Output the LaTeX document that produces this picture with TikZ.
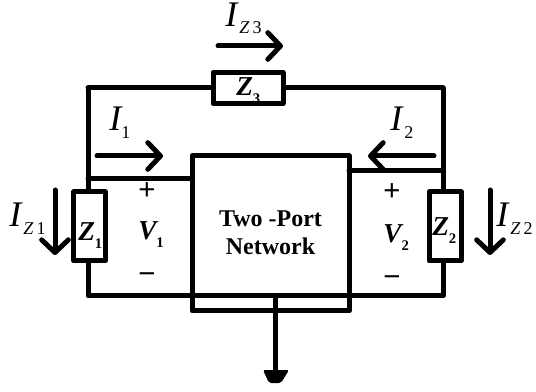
\documentclass[tikz,border=0pt]{standalone}
\usepackage{fontspec}
\setmainfont{Liberation Serif}
\setsansfont{Liberation Sans}
\usetikzlibrary{arrows.meta}
\newcommand{\bigI}{{\fontsize{27}{27}\selectfont\itshape I}}
\newcommand{\subtxt}[1]{\raisebox{-5.5pt}{\fontsize{13.5}{14}\selectfont #1}}
\newcommand{\boldlab}[2]{{\fontsize{20.5}{20}\selectfont\bfseries\itshape #1}\raisebox{-5.5pt}{\fontsize{11}{11}\selectfont\bfseries #2}}
\tikzset{
  wire/.style={line width=3.75pt},
  zbox/.style={draw,line width=3.75pt,fill=white,inner sep=0pt,outer sep=0pt},
  curr/.style={line width=3.75pt,-{Straight Barb[length=9.5pt,width=20pt,round]}},
  lab/.style={inner sep=0pt,anchor=base west},
  sign/.style={inner sep=0pt,font=\sffamily\fontsize{22}{22}\selectfont}
}
\begin{document}
\begin{tikzpicture}[line cap=round,line join=round,x=0.75pt,y=-0.75pt]
\useasboundingbox (0,0) rectangle (536,392);
%port box and junctions
\node[zbox,minimum width=117.75pt,minimum height=116.25pt] (net) at (270.5,233.5) {};
\coordinate (topl) at (88,88);
\coordinate (topr) at (443,88);
\coordinate (botl) at (88,296);
\coordinate (botr) at (443,296);
\coordinate (portl) at (192,178.5);
\coordinate (portr) at (349,171);
\coordinate (juncl) at (88,178.5);
\coordinate (juncr) at (443,171);
\coordinate (gndtop) at (275,296);
\coordinate (gndend) at (275,372);
%wires
\draw[wire] (topl) -- (topr);
\draw[wire] (juncl) -- (portl);
\draw[wire] (portr) -- (juncr);
\draw[wire] (topl) -- (botl) -- (botr) -- (topr);
\draw[wire] (gndtop) -- (gndend);
\fill[rounded corners=1.5pt] (263,370) -- (289,370) -- (281,383) -- (269,383) -- cycle;
%impedances
\node[zbox,minimum width=52.5pt,minimum height=23.5pt] (zthree) at (248,88) {};
\node[zbox,minimum width=23.5pt,minimum height=51.75pt] (zone) at (89.5,226.5) {};
\node[zbox,minimum width=24pt,minimum height=51.75pt] (ztwo) at (445,226.5) {};
\node[lab] (zthreetxt) at (236,96) {\boldlab{Z}{3}};
\node[lab] (zonetxt) at (78,241) {\boldlab{Z}{1}};
\node[lab] (ztwotxt) at (432,236) {\boldlab{Z}{2}};
%current arrows
\coordinate (ithreea) at (218,46);
\coordinate (ithreeb) at (283,46);
\coordinate (ionea) at (97,156);
\coordinate (ioneb) at (163,156);
\coordinate (itwoa) at (434,156);
\coordinate (itwob) at (368,156);
\coordinate (izonea) at (55,190);
\coordinate (izoneb) at (55,255);
\coordinate (iztwoa) at (490,190);
\coordinate (iztwob) at (490,255);
\draw[curr] (ithreea) -- (ithreeb);
\draw[curr] (ionea) -- (ioneb);
\draw[curr] (itwoa) -- (itwob);
\draw[curr] (izonea) -- (izoneb);
\draw[curr] (iztwoa) -- (iztwob);
%labels
\node[lab] (lzthree) at (225,26.5) {\bigI\,\subtxt{\textit{Z}\,3}};
\node[lab] (lzone) at (9,227) {\bigI\,\subtxt{\textit{Z}\,1}};
\node[lab] (lztwo) at (496,227) {\bigI\,\subtxt{\textit{Z}\,2}};
\node[lab] (lone) at (109,131) {\bigI\subtxt{1}};
\node[lab] (ltwo) at (390,131) {\bigI\,\subtxt{2}};
\node[lab] (vone) at (138,240) {\boldlab{V}{1}};
\node[lab] (vtwo) at (383,243) {\boldlab{V}{2}};
\node[sign] (pone) at (147,191) {+};
\node[sign] (mone) at (147,278) {−};
\node[sign] (ptwo) at (392,192) {+};
\node[sign] (mtwo) at (392,281) {−};
\node[align=center,inner sep=0pt,font=\bfseries\fontsize{18}{21}\selectfont] (nettxt) at (270.5,233) {Two -Port\\Network};
\end{tikzpicture}
\end{document}
